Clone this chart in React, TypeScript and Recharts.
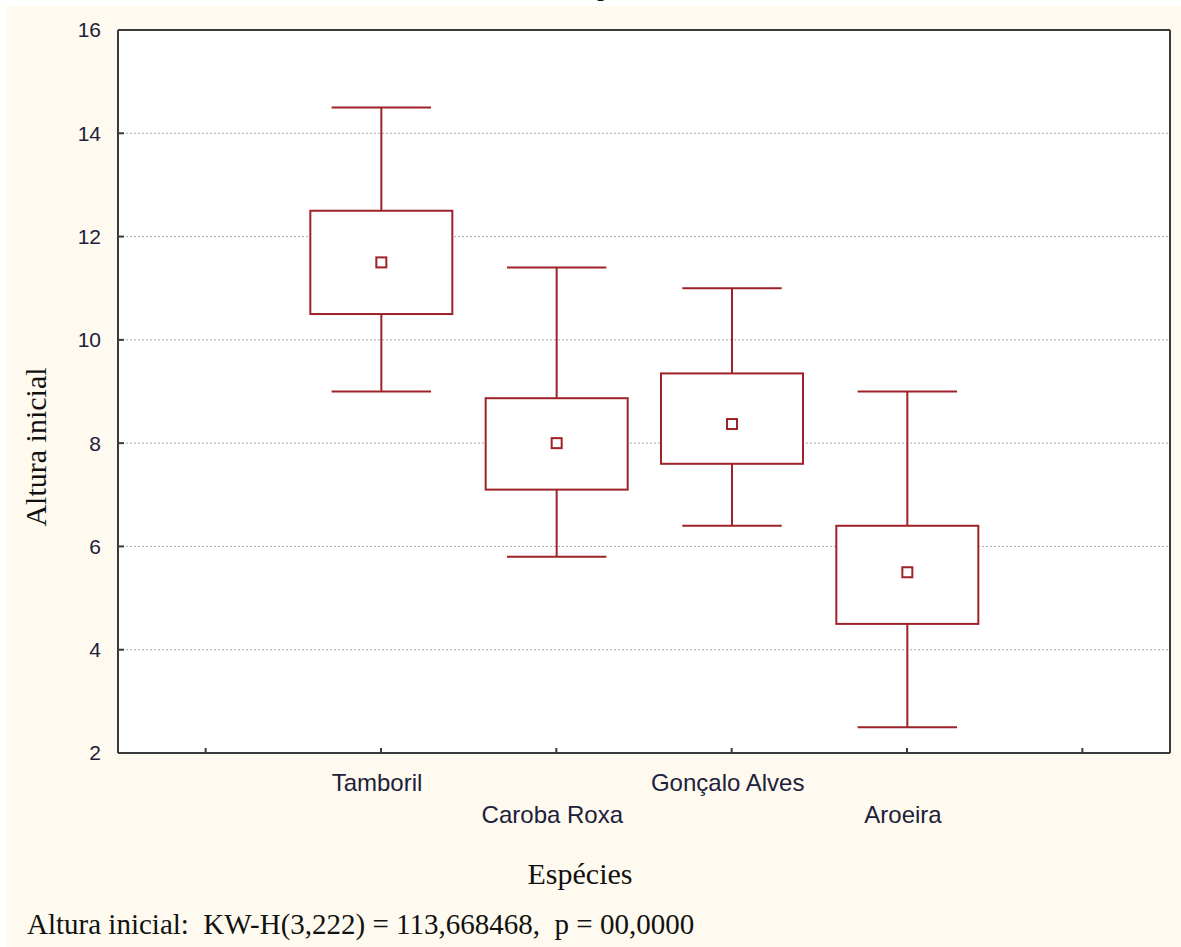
import React from 'react';
import { ComposedChart, Bar, XAxis, YAxis, CartesianGrid } from 'recharts';

// valores (boxplot por espécie)
const species = ['Tamboril', 'Caroba Roxa', 'Gonçalo Alves', 'Aroeira'];
const mins = [9.0, 5.8, 6.4, 2.5];
const q1s = [10.5, 7.1, 7.6, 4.5];
const medians = [11.5, 8.0, 8.37, 5.5];
const q3s = [12.5, 8.87, 9.35, 6.4];
const maxs = [14.5, 11.4, 11.0, 9.0];
const yTicks = [2, 4, 6, 8, 10, 12, 14, 16];

// slots vazios nas pontas, como no original
const slots = ['_l', ...species, '_r'];

const data = slots.map((s) => {
  const i = species.indexOf(s);
  if (i < 0) return { slot: s, range: null };
  return {
    slot: s,
    min: mins[i],
    q1: q1s[i],
    med: medians[i],
    q3: q3s[i],
    max: maxs[i],
    range: [mins[i], maxs[i]],
  };
});

const RED = '#9e2228';
const AXIS = '#3a3a3a';
const TXT = '#20203a';

const BoxShape = (props: any) => {
  const { x, y, width, height, payload } = props;
  if (!payload || payload.range == null) return <g />;
  const { min, q1, med, q3, max } = payload;
  // posição via escala da barra (min..max)
  const toPx = (v: number) => y + (height * (max - v)) / (max - min);
  const cx = x + width / 2;
  const cap = width * 0.35;
  const yMax = toPx(max);
  const yMin = toPx(min);
  const yQ3 = toPx(q3);
  const yQ1 = toPx(q1);
  const yMed = toPx(med);
  return (
    <g stroke={RED} strokeWidth={2} fill="none">
      <line x1={cx} x2={cx} y1={yMax} y2={yQ3} />
      <line x1={cx} x2={cx} y1={yQ1} y2={yMin} />
      <line x1={cx - cap} x2={cx + cap} y1={yMax} y2={yMax} />
      <line x1={cx - cap} x2={cx + cap} y1={yMin} y2={yMin} />
      <rect x={x} y={yQ3} width={width} height={yQ1 - yQ3} fill="#fff" />
      <rect x={cx - 5} y={yMed - 5} width={10} height={10} fill="#fff" />
    </g>
  );
};

const SpeciesTick = (props: any) => {
  const { x, y, payload, index } = props;
  const name = payload.value as string;
  if (name.startsWith('_')) return <g />;
  const dy = index % 2 === 1 ? 38 : 70;
  return (
    <text x={x - 4} y={y + dy} textAnchor="middle" fill={TXT}
      fontFamily="'Liberation Sans', Arial, sans-serif" fontSize={24}>
      {name}
    </text>
  );
};

const serif = "'Liberation Serif', 'Times New Roman', serif";

export default function App() {
  return (
    <div style={{ position: 'absolute', left: 0, top: 0, width: 1181, height: 947, background: '#fff', overflow: 'hidden' }}>
      <div style={{ position: 'absolute', left: 6, top: 6, width: 1175, height: 941, background: '#fffaef' }} />
      {/* resto do título cortado no topo */}
      <div style={{ position: 'absolute', left: 597, top: 0, width: 20, height: 6, overflow: 'hidden' }}>
        <span style={{ position: 'absolute', left: 0, top: -28, fontFamily: serif, fontSize: 28, lineHeight: '28px', color: '#111' }}>p</span>
      </div>
      <div style={{ position: 'absolute', left: 0, top: 0 }}>
        <ComposedChart
          width={1181}
          height={947}
          data={data}
          margin={{ top: 29, right: 10, bottom: 134, left: 18 }}
        >
          <CartesianGrid
            yAxisId="left"
            vertical={false}
            fill="#ffffff"
            stroke="#a8a8a8"
            strokeDasharray="2 2"
          />
          <XAxis
            dataKey="slot"
            xAxisId="bottom"
            orientation="bottom"
            height={60}
            interval={0}
            tickSize={-5}
            tickMargin={5}
            tickLine={{ stroke: AXIS, strokeWidth: 2 }}
            axisLine={{ stroke: AXIS, strokeWidth: 2 }}
            tick={<SpeciesTick />}
            label={{
              content: () => (
                <g fontFamily={serif} fill="#111">
                  <text x={580} y={884} textAnchor="middle" fontSize={30}>Espécies</text>
                  <text x={27} y={934} fontSize={29} style={{ whiteSpace: 'pre' }}>
                    {'Altura inicial:  KW-H(3,222) = 113,668468,  p = 00,0000'}
                  </text>
                </g>
              ),
            }}
          />
          <XAxis
            dataKey="slot"
            xAxisId="top"
            orientation="top"
            height={1}
            interval={0}
            tickSize={-5}
            tick={false}
            tickLine={{ stroke: AXIS, strokeWidth: 2 }}
            axisLine={{ stroke: AXIS, strokeWidth: 2 }}
          />
          <YAxis
            yAxisId="left"
            type="number"
            domain={[2, 16]}
            ticks={yTicks}
            interval={0}
            width={100}
            tickSize={-6}
            tickMargin={23}
            tickLine={{ stroke: AXIS, strokeWidth: 2 }}
            axisLine={{ stroke: AXIS, strokeWidth: 2 }}
            tick={{ fill: TXT, fontSize: 21, fontFamily: "'Liberation Sans', Arial, sans-serif" }}
            label={{
              content: () => (
                <text
                  x={46}
                  y={447}
                  transform="rotate(-90 46 447)"
                  textAnchor="middle"
                  fontFamily={serif}
                  fontSize={30}
                  fill="#111"
                >
                  Altura inicial
                </text>
              ),
            }}
          />
          <YAxis
            yAxisId="right"
            orientation="right"
            type="number"
            domain={[2, 16]}
            ticks={yTicks}
            interval={0}
            width={1}
            tickSize={-6}
            tick={false}
            tickLine={{ stroke: AXIS, strokeWidth: 2 }}
            axisLine={{ stroke: AXIS, strokeWidth: 2 }}
          />
          <Bar
            dataKey="range"
            xAxisId="bottom"
            yAxisId="left"
            barSize={142}
            shape={<BoxShape />}
            isAnimationActive={false}
          />
        </ComposedChart>
      </div>
    </div>
  );
}
